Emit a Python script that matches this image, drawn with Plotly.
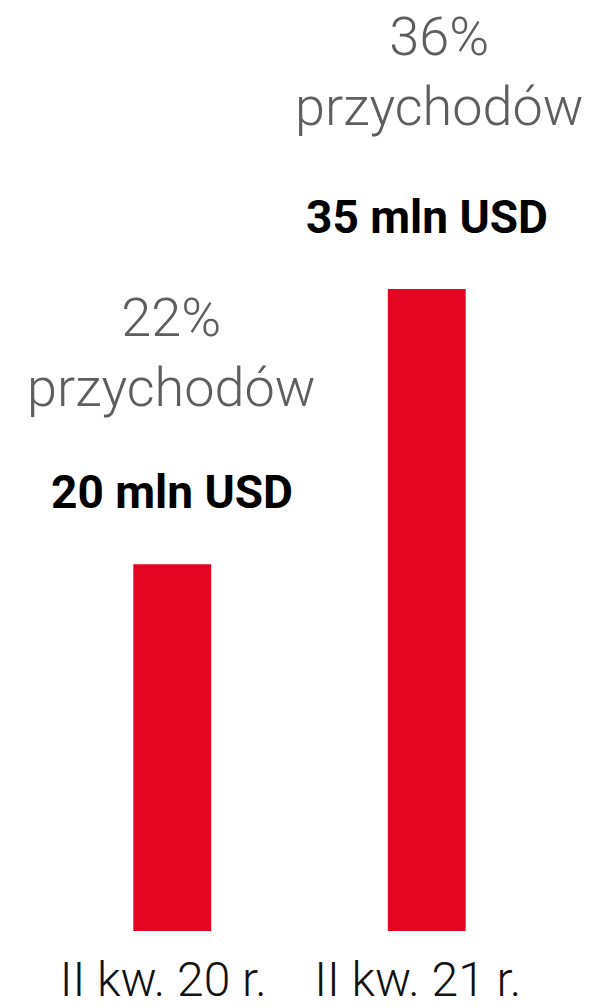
import plotly.graph_objects as go

# Quarterly revenue figures (mln USD) and share of total revenue
quarters = ["II kw. 20 r.", "II kw. 21 r."]
revenue_mln_usd = [20, 35]
revenue_share_pct = [22, 36]

BAR_COLOR = "#e30521"
GRAY = "#5e5e5e"
FONT = "Roboto"

fig = go.Figure(
    go.Bar(
        x=quarters,
        y=revenue_mln_usd,
        width=0.306,
        marker=dict(color=BAR_COLOR, line=dict(width=0)),
        hoverinfo="skip",
    )
)

annotations = []
share_xshift = [-1, 13]
share_yshift = [143, 149]
for i, (q, v, s) in enumerate(zip(quarters, revenue_mln_usd, revenue_share_pct)):
    # bold value label above the bar
    annotations.append(dict(
        x=q, y=v, xref="x", yref="y",
        text=f"{v} mln USD",
        showarrow=False, yanchor="bottom", yshift=43,
        font=dict(family=FONT, size=46, color="#000000", weight=700),
    ))
    # share of revenue, two lines in light gray
    annotations.append(dict(
        x=q, y=v, xref="x", yref="y",
        text=f"{s}%<br>przychodów",
        showarrow=False, yanchor="bottom",
        yshift=share_yshift[i], xshift=share_xshift[i],
        font=dict(family=FONT, size=54, color=GRAY, weight=300),
    ))

fig.update_layout(
    width=599, height=1005,
    margin=dict(l=44.5, r=44.5, t=0, b=74, pad=0),
    paper_bgcolor="white", plot_bgcolor="white",
    showlegend=False,
    annotations=annotations,
    xaxis=dict(
        type="category", range=[-0.5, 1.5], automargin=False,
        showgrid=False, zeroline=False, showline=False, ticks="",
        tickfont=dict(family=FONT, size=48, color="#111111", weight=300),
        ticklabelshift=-9, ticklabelstandoff=16,
        fixedrange=True,
    ),
    yaxis=dict(
        range=[0, 50.76], visible=False, showgrid=False, zeroline=False,
        automargin=False, fixedrange=True,
    ),
)

fig.write_html("out.html", config={"displayModeBar": False})
